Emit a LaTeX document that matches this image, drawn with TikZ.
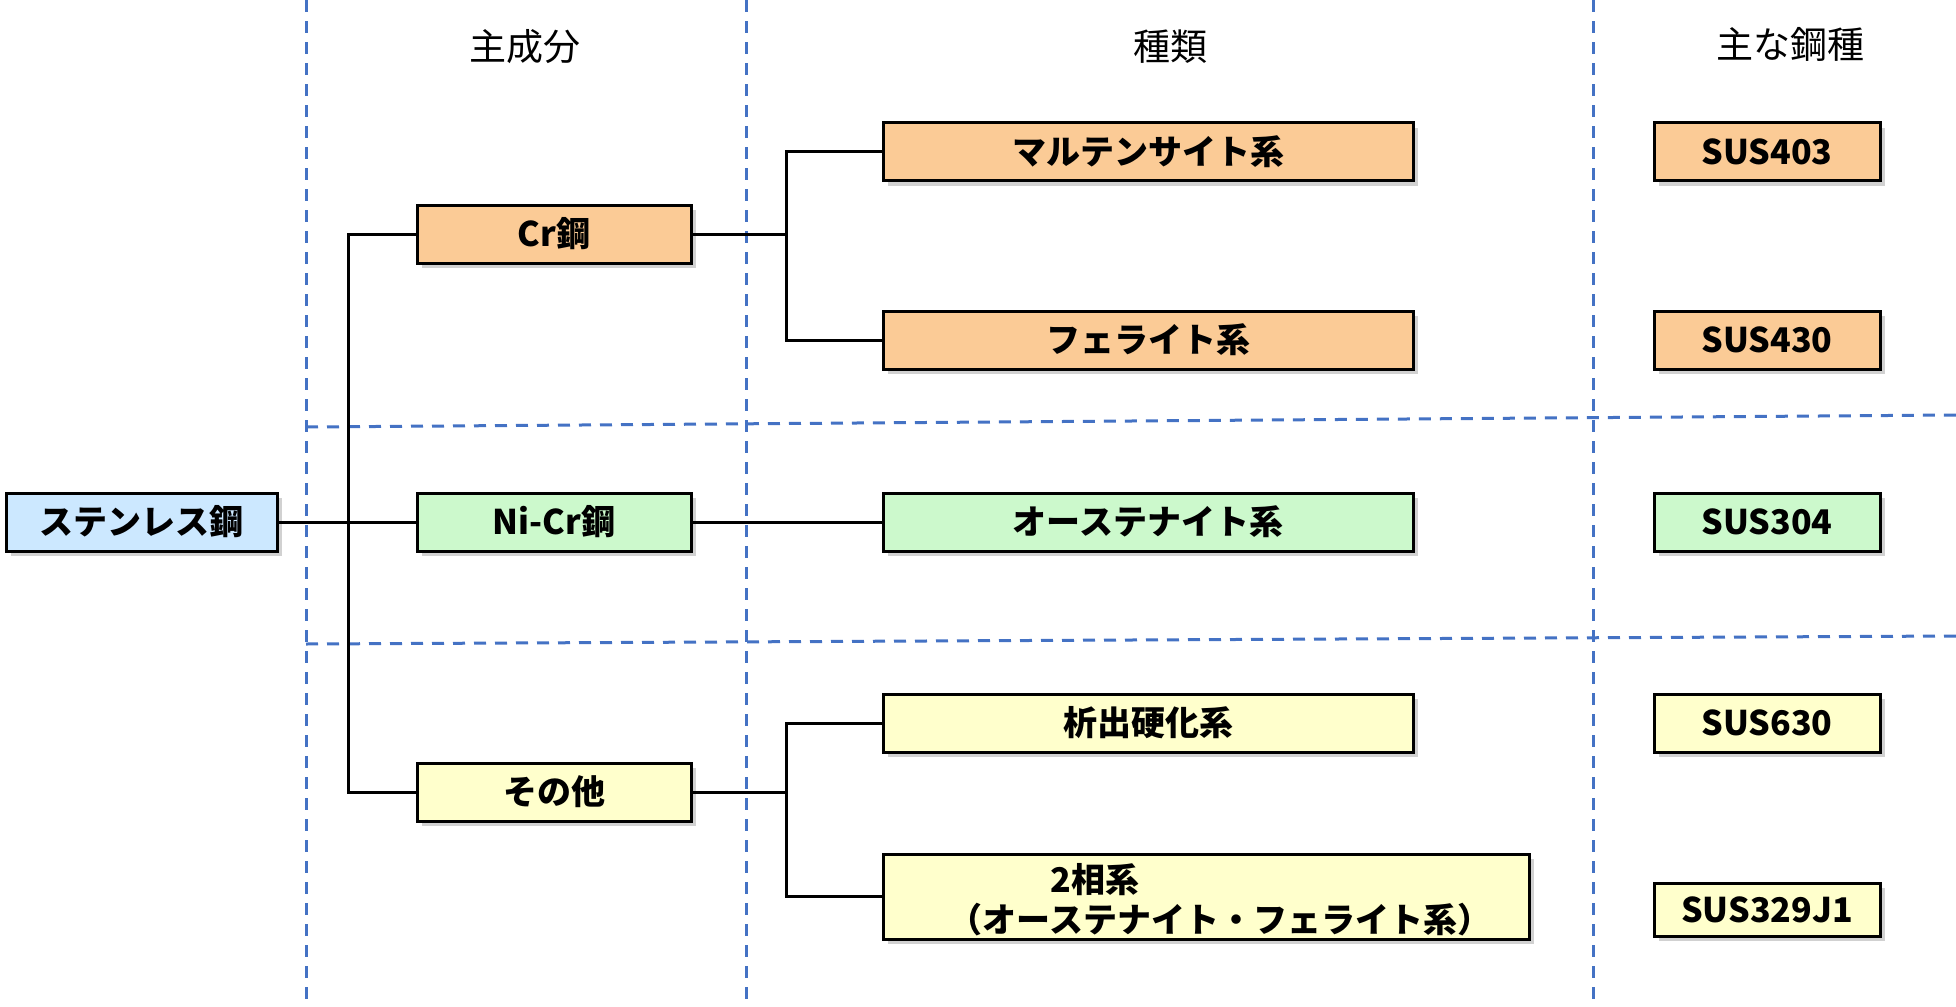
\documentclass[tikz,border=0pt]{standalone}
\usepackage{fontspec}
\setmainfont{Noto Sans CJK JP}
\usepackage{xcolor}
\usetikzlibrary{positioning,shadows}

\definecolor{crcol}{HTML}{FBCB96}
\definecolor{nicol}{HTML}{CCF9CC}
\definecolor{etccol}{HTML}{FFFFCC}
\definecolor{rootcol}{HTML}{CCE8FF}
\definecolor{gridcol}{HTML}{4472C4}

\tikzset{
    box/.style={draw=black, line width=1.5pt, inner sep=0pt, minimum height=29pt,
        font=\fontsize{17}{21}\selectfont\bfseries,
        drop shadow={shadow xshift=2.5pt, shadow yshift=-2.5pt, opacity=0.3, fill=black!60}},
    rootbox/.style={box, fill=rootcol, minimum width=135.5pt},
    compbox/.style={box, minimum width=137pt},
    typebox/.style={box, minimum width=265pt},
    susbox/.style={box, minimum width=113pt},
    head/.style={font=\fontsize{18.5}{22}\selectfont},
    grid/.style={gridcol, line width=1.5pt, dash pattern=on 6pt off 4.5pt},
    link/.style={line width=1.5pt}
}

\begin{document}
\begin{tikzpicture}[x=0.5pt, y=-0.5pt]
    \useasboundingbox (0,0) rectangle (1956,1007);

    % column and row guides
    \foreach \gx in {306, 746, 1593} {
        \draw[grid] (\gx,0) -- (\gx,1000);
    }
    \draw[grid] (306,427) -- (1956,415);
    \draw[grid] (306,644) -- (1956,636);

    % headings
    \node[head] (hcomp) at (525,47) {主成分};
    \node[head] (htype) at (1170,47) {種類};
    \node[head] (hgrade) at (1790,44) {主な鋼種};

    % main component
    \node[rootbox] (root) at (141.5,522) {ステンレス鋼};
    \node[compbox, fill=crcol] (cr) at (554,234) {Cr鋼};
    \node[compbox, fill=nicol] (nicr) at (554,522) {Ni-Cr鋼};
    \node[compbox, fill=etccol] (etc) at (554,792) {その他};

    % types
    \node[typebox, fill=crcol] (mart) at (1148,151.5) {マルテンサイト系};
    \node[typebox, fill=crcol] (ferr) at (1148,340) {フェライト系};
    \node[typebox, fill=nicol] (aust) at (1148,522) {オーステナイト系};
    \node[typebox, fill=etccol] (prec) at (1148,723) {析出硬化系};
    \node[box, fill=etccol, minimum width=323pt, minimum height=42.5pt] (duplex) at (1206,896.5) {};
    \node[font=\fontsize{17}{20}\selectfont\bfseries, align=left, inner sep=0pt] (duplextxt)
        at ([xshift=7pt, yshift=-1.5pt]duplex.center) {\hspace{3em}2相系\\（オーステナイト・フェライト系）};

    % grades
    \foreach \nm/\yy/\cc/\tx in {s403/151.5/crcol/SUS403, s430/340/crcol/SUS430,
            s304/522/nicol/SUS304, s630/723/etccol/SUS630} {
        \node[susbox, fill=\cc] (\nm) at (1767,\yy) {\tx};
    }
    \node[susbox, fill=etccol, minimum height=26.5pt] (s329) at (1767,909.5) {SUS329J1};

    % tree
    \coordinate (trunk) at (348,522);
    \draw[link] (root.east) -- (trunk);
    \draw[link] (cr.west) -| (trunk) |- (etc.west);
    \draw[link] (trunk) -- (nicr.west);

    \coordinate (jcr) at (786,234);
    \draw[link] (cr.east) -- (jcr);
    \draw[link] (mart.west) -| (jcr) |- (ferr.west);
    \draw[link] (nicr.east) -- (aust.west);
    \coordinate (jetc) at (786,792);
    \draw[link] (etc.east) -- (jetc);
    \draw[link] (prec.west) -| (jetc) |- (duplex.west);
\end{tikzpicture}
\end{document}
